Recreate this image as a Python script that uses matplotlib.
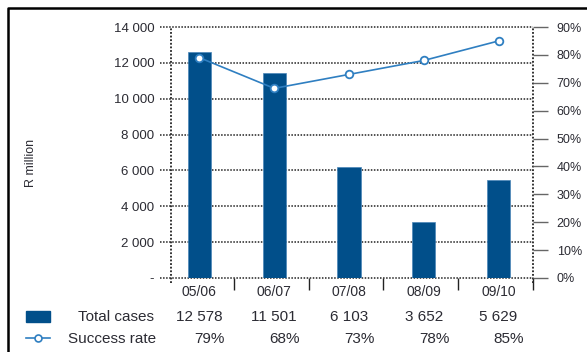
import matplotlib
matplotlib.use("Agg")
import matplotlib.pyplot as plt
from matplotlib.lines import Line2D
from matplotlib.patches import Rectangle
from matplotlib.transforms import blended_transform_factory

plt.rcParams["font.family"] = ["Liberation Sans", "DejaVu Sans"]

YEARS = ["05/06", "06/07", "07/08", "08/09", "09/10"]
BAR_HEIGHTS = [12600, 11450, 6200, 3120, 5470]      # as drawn in the bars (R million)
TOTAL_CASES = [12578, 11501, 6103, 3652, 5629]      # as printed in the table
SUCCESS_RATE = [79, 68, 73, 78, 85]                 # %
LEFT_TICKS = [0, 2000, 4000, 6000, 8000, 10000, 12000, 14000]
RIGHT_TICKS = [0, 10, 20, 30, 40, 50, 60, 70, 80, 90]

BAR_BLUE = "#014f8a"
LINE_BLUE = "#2f7fc1"
TXT = "#2b2b33"
DOT = (0, (1, 1))


def fmt_thousands(v):
    if v == 0:
        return "-"
    return f"{v:,}".replace(",", " ")


fig = plt.figure(figsize=(5.87, 3.52), dpi=100)
ax = fig.add_axes([171 / 587, 74 / 352, 362 / 587, 251 / 352])
ax2 = ax.twinx()

xs = list(range(len(YEARS)))
ax.bar(xs, BAR_HEIGHTS, width=0.31, color=BAR_BLUE, edgecolor="#4a86b8",
       linewidth=0.5, zorder=3)
ax.set_xlim(-0.38, 4.46)
ax.set_ylim(0, 14000)

# dotted grid lines that run out past the left spine
ytr = ax.get_yaxis_transform()
for v in LEFT_TICKS:
    ax.plot([-0.03, 1.0], [v, v], transform=ytr, color="#222222", lw=1.1,
            linestyle=DOT, clip_on=False, zorder=2)
ax.set_yticks(LEFT_TICKS)
ax.set_yticklabels([fmt_thousands(v) for v in LEFT_TICKS])
ax.tick_params(axis="y", length=0, pad=12, labelsize=9.5, labelcolor=TXT)

# x axis: labels at categories, short solid ticks between them
ax.set_xticks(xs)
ax.set_xticklabels(YEARS)
ax.set_xticks([i + 0.46 for i in xs], minor=True)
ax.tick_params(axis="x", which="major", length=0, pad=5, labelsize=10,
               labelcolor=TXT)
ax.tick_params(axis="x", which="minor", length=8.5, width=1.0, color="#222222")

for s in ax.spines.values():
    s.set_visible(False)
ax.plot([0, 0], [-0.02, 1], transform=ax.transAxes, color="#222222", lw=1.3,
        linestyle=DOT, clip_on=False, zorder=4)
ax.plot([1, 1], [-0.02, 1], transform=ax.transAxes, color="#222222", lw=1.3,
        linestyle=DOT, clip_on=False, zorder=4)

ax.set_ylabel("R million", fontsize=9, color=TXT, labelpad=0)
ax.yaxis.set_label_coords(-0.37, 0.46)

# success rate on the right axis
ax2.plot(xs, SUCCESS_RATE, color=LINE_BLUE, lw=1.2, marker="o", markersize=5.5,
         markerfacecolor="white", markeredgecolor=LINE_BLUE,
         markeredgewidth=1.3, zorder=5)
ax2.set_ylim(0, 90)
ax2.set_yticks(RIGHT_TICKS)
ax2.set_yticklabels([f"{v}%" for v in RIGHT_TICKS])
ax2.tick_params(axis="y", length=11, width=1.0, color="#666666", pad=6,
                labelsize=9, labelcolor=TXT)
for s in ax2.spines.values():
    s.set_visible(False)

# table under the chart
tr = blended_transform_factory(ax.transData, fig.transFigure)
for i, (n, r) in enumerate(zip(TOTAL_CASES, SUCCESS_RATE)):
    fig.text(i, 35 / 352, fmt_thousands(n), transform=tr, ha="center",
             va="center", fontsize=11, color=TXT)
    fig.text(i + 0.14, 13 / 352, f"{r}%", transform=tr, ha="center",
             va="center", fontsize=11, color=TXT)

fig.text(154 / 587, 35 / 352, "Total cases", ha="right", va="center",
         fontsize=11, color=TXT)
fig.text(156 / 587, 13 / 352, "Success rate", ha="right", va="center",
         fontsize=11, color=TXT)
fig.patches.append(Rectangle((26 / 587, 30 / 352), 24 / 587, 11 / 352,
                             transform=fig.transFigure, color=BAR_BLUE))
fig.lines.append(Line2D([26 / 587, 50 / 587], [14 / 352, 14 / 352],
                        transform=fig.transFigure, color=LINE_BLUE, lw=1.2))
fig.lines.append(Line2D([38 / 587], [14 / 352], transform=fig.transFigure,
                        marker="o", markersize=5, markerfacecolor="white",
                        markeredgecolor=LINE_BLUE, markeredgewidth=1.2))

# page frame
fig.lines.append(Line2D([8 / 587, 8 / 587, 1.0], [0.0, 1 - 8 / 352, 1 - 8 / 352],
                        transform=fig.transFigure, color="black", lw=1.8))

fig.savefig("out.png", dpi=100)
